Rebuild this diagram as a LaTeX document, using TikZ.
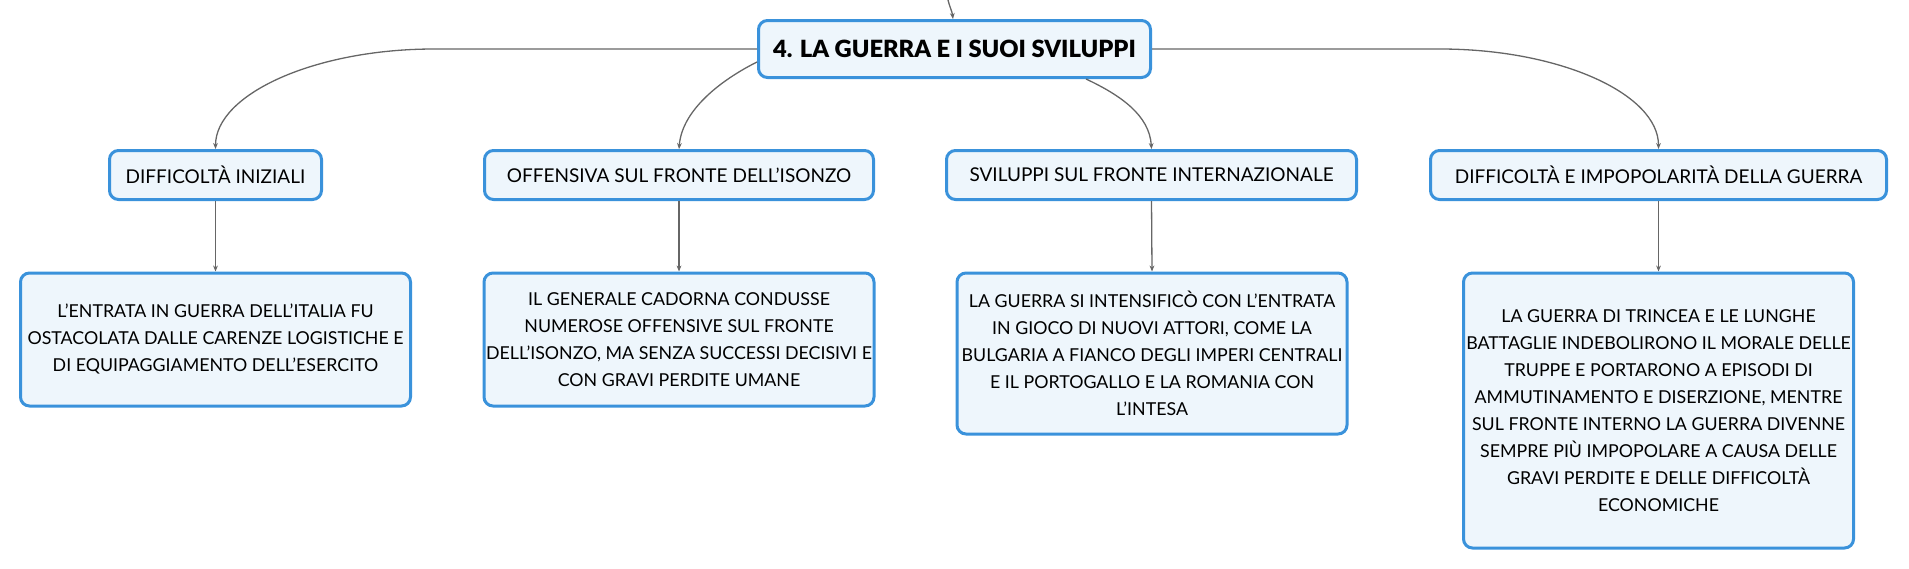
\documentclass[tikz,border=0pt]{standalone}
\usepackage{fontspec}
\setmainfont{Lato}
\newfontface\titlefont{Lato Black}
\usetikzlibrary{arrows.meta}
\definecolor{topicblue}{HTML}{3A92DB}
\definecolor{topicfill}{HTML}{EEF6FC}
\definecolor{linkgray}{HTML}{666666}

\begin{document}
\begin{tikzpicture}[x=0.5pt, y=-0.5pt,
    box/.style={draw=topicblue, fill=topicfill, line width=1.5pt, rounded corners=4.5pt,
        align=center, inner sep=0pt, font=\fontsize{9.5}{13.5}\selectfont},
    root/.style={box, minimum width=196pt, minimum height=28.5pt,
        font=\titlefont\fontsize{11.85}{14}\selectfont},
    topic/.style={box, minimum height=24.5pt},
    detail/.style={box, anchor=north, minimum width=195pt, font=\fontsize{8.9}{13.5}\selectfont},
    link/.style={draw=linkgray, line width=0.65pt, -{Stealth[length=3pt,width=2.4pt]}}]
    \useasboundingbox (0,0) rectangle (1909,568);

    \node[root] (root) at (954.5,49) {4. LA GUERRA E I SUOI SVILUPPI};

    \node[topic, minimum width=106pt] (init) at (215.5,175) {DIFFICOLTÀ INIZIALI};
    \node[topic, minimum width=194.5pt] (isonzo) at (679,175) {OFFENSIVA SUL FRONTE DELL'ISONZO};
    \node[topic, minimum width=205pt] (intl) at (1151.5,175) {SVILUPPI SUL FRONTE INTERNAZIONALE};
    \node[topic, minimum width=228pt] (impop) at (1658.5,175) {DIFFICOLTÀ E IMPOPOLARITÀ DELLA GUERRA};

    \node[detail, minimum height=66.5pt] (initTxt) at (215.5,271.5)
        {L'ENTRATA IN GUERRA DELL'ITALIA FU\\OSTACOLATA DALLE CARENZE LOGISTICHE E\\DI EQUIPAGGIAMENTO DELL'ESERCITO};
    \node[detail, minimum height=66.5pt] (isonzoTxt) at (679,271.5)
        {IL GENERALE CADORNA CONDUSSE\\NUMEROSE OFFENSIVE SUL FRONTE\\DELL'ISONZO, MA SENZA SUCCESSI DECISIVI E\\CON GRAVI PERDITE UMANE};
    \node[detail, minimum height=80.5pt] (intlTxt) at (1152,271.5)
        {LA GUERRA SI INTENSIFICÒ CON L'ENTRATA\\IN GIOCO DI NUOVI ATTORI, COME LA\\BULGARIA A FIANCO DEGLI IMPERI CENTRALI\\E IL PORTOGALLO E LA ROMANIA CON\\L'INTESA};
    \node[detail, minimum height=137.5pt] (impopTxt) at (1658.5,271.5)
        {LA GUERRA DI TRINCEA E LE LUNGHE\\BATTAGLIE INDEBOLIRONO IL MORALE DELLE\\TRUPPE E PORTARONO A EPISODI DI\\AMMUTINAMENTO E DISERZIONE, MENTRE\\SUL FRONTE INTERNO LA GUERRA DIVENNE\\SEMPRE PIÙ IMPOPOLARE A CAUSA DELLE\\GRAVI PERDITE E DELLE DIFFICOLTÀ\\ECONOMICHE};

    \coordinate (parent) at (948,0);
    \draw[link] (parent) .. controls +(2,8) and +(-1,-8) .. ([xshift=-0.75pt]root.north);

    \draw[link] (root.west) -- ++(-323,0) .. controls +(-119,0) and +(0,-55) .. (init.north);
    \draw[link] ([yshift=-6.5pt]root.west) .. controls +(-36,18) and +(3,-39) .. (isonzo.north);
    \draw[link] ([xshift=65.75pt]root.south) .. controls +(34,16) and +(-2,-34) .. (intl.north);
    \draw[link] (root.east) -- ++(288,0) .. controls +(120,0) and +(0,-55) .. (impop.north);

    \draw[link] (init.south) -- (initTxt.north);
    \draw[link] (isonzo.south) -- (isonzoTxt.north);
    \draw[link] (intl.south) -- (intlTxt.north);
    \draw[link] (impop.south) -- (impopTxt.north);
\end{tikzpicture}
\end{document}
